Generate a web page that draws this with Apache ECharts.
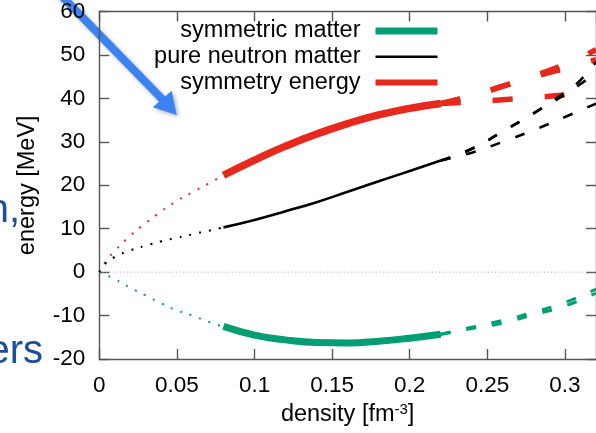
<!DOCTYPE html>
<html>
<head>
<meta charset="utf-8">
<script src="https://cdn.jsdelivr.net/npm/echarts@6/dist/echarts.min.js"></script>
<style>
  html, body { margin: 0; padding: 0; background: #fff; }
  #chart { width: 596px; height: 433px; }
</style>
</head>
<body>
<div id="chart"></div>
<script>
// Energy per particle of nuclear matter [MeV] against density [fm^-3]
// low-density part (dotted), fitted range (solid), extrapolation bands (dashed)

const densityTicks = [0, 0.05, 0.1, 0.15, 0.2, 0.25, 0.3];
const energyTicks = [-20, -10, 0, 10, 20, 30, 40, 50, 60];
const densityMax = 0.32;

const zeroLine = [[0, 0], [0.32, 0]];

// symmetric matter
const smLow = [[0, 0], [0.01, -1.6], [0.02, -3.6], [0.03, -5.4], [0.04, -7.2], [0.05, -8.8], [0.06, -10.0], [0.07, -11.4], [0.08, -12.5]];
const smMid = [[0.08, -12.5], [0.10, -14.5], [0.12, -15.6], [0.14, -16.2], [0.16, -16.3], [0.18, -15.9], [0.20, -15.2], [0.22, -14.3]];
const smHighA = [[0.22, -14.3], [0.24, -12.7], [0.26, -11.1], [0.28, -9.2], [0.30, -7.0], [0.32, -3.9]];
const smHighB = [[0.22, -14.3], [0.24, -13.0], [0.26, -11.7], [0.28, -9.8], [0.30, -7.8], [0.32, -4.8]];

// pure neutron matter
const pnmLow = [[0, 0], [0.004, 2.0], [0.01, 3.5], [0.02, 5.0], [0.03, 6.1], [0.04, 7.1], [0.05, 7.9], [0.06, 8.7], [0.07, 9.5], [0.08, 10.3]];
const pnmMid = [[0.08, 10.3], [0.10, 12.0], [0.12, 14.0], [0.14, 16.1], [0.16, 18.5], [0.18, 20.9], [0.20, 23.3], [0.22, 25.7]];
const pnmHighA = [[0.22, 25.7], [0.24, 28.4], [0.26, 32.4], [0.28, 36.6], [0.30, 41.4], [0.31, 44.2], [0.32, 48.4]];
const pnmHighB = [[0.22, 25.7], [0.24, 28.4], [0.26, 32.4], [0.28, 36.6], [0.30, 40.9], [0.31, 43.3], [0.32, 46.0]];
const pnmHighC = [[0.22, 25.7], [0.24, 27.5], [0.26, 30.0], [0.28, 32.7], [0.30, 35.7], [0.32, 38.8]];

// symmetry energy
const esymLow = [[0, 0], [0.004, 2.4], [0.01, 4.9], [0.02, 8.4], [0.03, 11.3], [0.04, 14.0], [0.05, 16.4], [0.06, 18.4], [0.07, 20.3], [0.08, 22.3]];
const esymMid = [[0.08, 22.3], [0.10, 25.8], [0.12, 29.0], [0.14, 31.8], [0.16, 34.2], [0.18, 36.2], [0.20, 37.7], [0.22, 38.8]];
const esymHighA = [[0.22, 38.8], [0.24, 40.6], [0.26, 42.8], [0.28, 45.2], [0.30, 47.8], [0.32, 51.2]];
const esymHighB = [[0.22, 38.8], [0.24, 40.6], [0.26, 42.8], [0.28, 45.0], [0.30, 46.9], [0.32, 48.9]];
const esymHighC = [[0.22, 38.8], [0.24, 39.2], [0.26, 39.7], [0.28, 40.2], [0.30, 40.8], [0.32, 41.5]];

const GREEN = '#009e73';
const BLACK = '#000000';
const RED = '#e8281c';
const FONT = '"Liberation Sans", Arial, Helvetica, sans-serif';

const DOTS = [2, 8];
const DASH_THIN = [10, 16];
const DASH_THICK = [20, 32];

function curve(name, data, color, width, type, z) {
  return {
    name: name,
    type: 'line',
    data: data,
    smooth: true,
    symbol: 'none',
    silent: true,
    z: z,
    lineStyle: { color: color, width: width, type: type, cap: 'butt' },
    itemStyle: { color: color }
  };
}

const chart = echarts.init(document.getElementById('chart'), null, { renderer: 'canvas' });

const axisLine = { show: true, onZero: false, lineStyle: { color: '#555', width: 1.4 } };
const axisTick = { show: true, inside: true, length: 10, lineStyle: { color: '#555', width: 1.4 } };

chart.setOption({
  animation: false,
  backgroundColor: '#fff',
  grid: { left: 99.3, right: -1.2, top: 5.7, bottom: 73.2, containLabel: false },
  legend: {
    data: [
      { name: 'symmetric matter', lineStyle: { width: 7 } },
      { name: 'pure neutron matter', lineStyle: { width: 2.5 } },
      { name: 'symmetry energy', lineStyle: { width: 6 } }
    ],
    orient: 'vertical',
    align: 'right',
    right: 155,
    top: 19,
    padding: 0,
    itemWidth: 62,
    itemHeight: 14,
    itemGap: 1.7,
    selectedMode: false,
    itemStyle: { opacity: 0 },
    textStyle: { fontFamily: FONT, fontSize: 23.5, color: '#000', lineHeight: 22, padding: [0, 10, 0, 0] }
  },
  xAxis: [
    {
      type: 'value',
      position: 'bottom',
      min: densityTicks[0],
      max: densityMax,
      interval: densityTicks[1] - densityTicks[0],
      name: 'density [fm{sup|-3}]',
      nameLocation: 'middle',
      nameGap: 43,
      nameTextStyle: {
        fontFamily: FONT, fontSize: 23.5, color: '#000', lineHeight: 26,
        rich: { sup: { fontFamily: FONT, fontSize: 15, color: '#000', lineHeight: 14, verticalAlign: 'top' } }
      },
      axisLine: axisLine,
      axisTick: axisTick,
      splitLine: { show: false },
      axisLabel: { fontFamily: FONT, fontSize: 22.5, color: '#000', margin: 15, showMaxLabel: false }
    },
    {
      type: 'value',
      position: 'top',
      min: densityTicks[0],
      max: densityMax,
      interval: densityTicks[1] - densityTicks[0],
      axisLine: axisLine,
      axisTick: axisTick,
      splitLine: { show: false },
      axisLabel: { show: false }
    }
  ],
  yAxis: [
    {
      type: 'value',
      position: 'left',
      min: energyTicks[0],
      max: energyTicks[energyTicks.length - 1],
      interval: energyTicks[1] - energyTicks[0],
      name: 'energy [MeV]',
      nameLocation: 'middle',
      nameGap: 59,
      nameTextStyle: { fontFamily: FONT, fontSize: 23.5, color: '#000', lineHeight: 26 },
      axisLine: axisLine,
      axisTick: axisTick,
      splitLine: { show: false },
      axisLabel: { fontFamily: FONT, fontSize: 22.5, color: '#000', margin: 14 }
    },
    {
      type: 'value',
      position: 'right',
      min: energyTicks[0],
      max: energyTicks[energyTicks.length - 1],
      interval: energyTicks[1] - energyTicks[0],
      axisLine: axisLine,
      axisTick: axisTick,
      splitLine: { show: false },
      axisLabel: { show: false }
    }
  ],
  series: [
    curve('zero', zeroLine, '#a6a6a6', 1, [1, 2.5], 1),

    curve('symmetric matter', smMid, GREEN, 7, 'solid', 3),
    curve('sm low density', smLow, GREEN, 2, DOTS, 3),
    curve('sm extrapolation a', smHighA, GREEN, 3, DASH_THIN, 3),
    curve('sm extrapolation b', smHighB, GREEN, 3, DASH_THIN, 3),

    curve('symmetry energy', esymMid, RED, 7.5, 'solid', 4),
    curve('esym low density', esymLow, RED, 2, DOTS, 4),
    curve('esym extrapolation a', esymHighA, RED, 5.5, DASH_THICK, 4),
    curve('esym extrapolation b', esymHighB, RED, 5.5, DASH_THICK, 4),
    curve('esym extrapolation c', esymHighC, RED, 5.5, DASH_THICK, 4),

    curve('pure neutron matter', pnmMid, BLACK, 2.6, 'solid', 5),
    curve('pnm low density', pnmLow, BLACK, 2, DOTS, 5),
    curve('pnm extrapolation a', pnmHighA, BLACK, 2.6, DASH_THIN, 5),
    curve('pnm extrapolation b', pnmHighB, BLACK, 2.6, DASH_THIN, 5),
    curve('pnm extrapolation c', pnmHighC, BLACK, 2.6, DASH_THIN, 5)
  ],
  graphic: [
    // slide text running into the figure from the left
    {
      type: 'text', x: 20, y: 211, z: 20,
      style: { text: 'n,', fill: '#1d4e9e', font: '40px ' + FONT, align: 'right', verticalAlign: 'middle' }
    },
    {
      type: 'text', x: 43, y: 352, z: 20,
      style: { text: 'ers', fill: '#1d4e9e', font: '40px ' + FONT, align: 'right', verticalAlign: 'middle' }
    },
    // pointer arrow
    {
      type: 'group', z: 30,
      children: [
        {
          type: 'polyline',
          shape: { points: [[50, -16], [163, 100]] },
          style: { stroke: '#3c82f0', lineWidth: 8, shadowBlur: 4, shadowOffsetX: 2, shadowOffsetY: 2, shadowColor: 'rgba(0,0,0,0.3)' }
        },
        {
          type: 'polygon',
          shape: { points: [[176.7, 115], [152.7, 107.3], [171.7, 90.7]] },
          style: { fill: '#3c82f0', shadowBlur: 4, shadowOffsetX: 2, shadowOffsetY: 2, shadowColor: 'rgba(0,0,0,0.3)' }
        }
      ]
    }
  ]
});
</script>
</body>
</html>
